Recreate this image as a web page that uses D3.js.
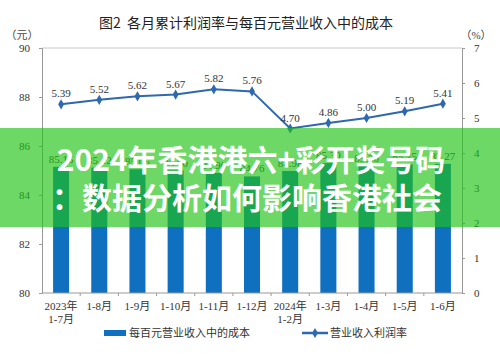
<!DOCTYPE html>
<html>
<head>
<meta charset="utf-8">
<script src="https://cdn.jsdelivr.net/npm/d3@7"></script>
<style>
  body { margin: 0; background: #fff; }
  svg { display: block; }
</style>
</head>
<body>
<div id="chart"></div>
<script>
const categories = ['2023年|1-7月', '1-8月', '1-9月', '1-10月', '1-11月', '1-12月',
    '2024年|1-2月', '1-3月', '1-4月', '1-5月', '1-6月'];
const costValues = [85.15, 85.12, 85.05, 85.00, 84.90, 84.76, 84.98, 85.30, 85.20, 85.25, 85.27];
const profitRate = [5.39, 5.52, 5.62, 5.67, 5.82, 5.76, 4.70, 4.86, 5.00, 5.19, 5.41];
const leftTicks = [80, 82, 84, 86, 88, 90];
const rightTicks = [0, 1, 2, 3, 4, 5, 6, 7];
const overlayLines = ['2024年香港港六+彩开奖号码', '：数据分析如何影响香港社会'];

const width = 500, height = 354;
const margin = {top: 48, right: 38, bottom: 61, left: 42};
const serif = '"Liberation Serif", "Noto Sans CJK SC", serif';
const barColor = '#1070c0';
const lineColor = '#2e68af';

const svg = d3.select('#chart')
    .append('svg')
    .attr('width', width)
    .attr('height', height);

const x = d3.scaleBand()
    .domain(categories)
    .range([margin.left, width - margin.right])
    .paddingInner(0.58)
    .paddingOuter(0.29);

const yL = d3.scaleLinear().domain([80, 90]).range([height - margin.bottom, margin.top]);
const yR = d3.scaleLinear().domain([0, 7]).range([height - margin.bottom, margin.top]);

// Title
svg.append('text')
    .attr('x', 246).attr('y', 28)
    .attr('text-anchor', 'middle')
    .attr('font-family', '"Noto Sans CJK SC", sans-serif')
    .attr('font-size', '14px')
    .attr('fill', '#222')
    .text('图2\u00a0\u00a0各月累计利润率与每百元营业收入中的成本');

// Unit labels
svg.append('text')
    .attr('x', 22).attr('y', 39)
    .attr('text-anchor', 'middle')
    .attr('font-family', serif).attr('font-size', '11px').attr('fill', '#444')
    .text('（元）');
svg.append('text')
    .attr('x', 476).attr('y', 39)
    .attr('text-anchor', 'middle')
    .attr('font-family', serif).attr('font-size', '11px').attr('fill', '#444')
    .text('（%）');

// Frame top line
svg.append('line')
    .attr('x1', margin.left).attr('x2', width - margin.right)
    .attr('y1', margin.top).attr('y2', margin.top)
    .attr('stroke', '#c8c8c8');

// Bars
svg.selectAll('rect.bar')
    .data(categories)
    .enter()
    .append('rect')
    .attr('class', 'bar')
    .attr('x', d => x(d))
    .attr('y', (d, i) => yL(costValues[i]))
    .attr('width', x.bandwidth())
    .attr('height', (d, i) => yL(80) - yL(costValues[i]))
    .attr('fill', barColor);

// Bar labels (mostly hidden under the banner)
svg.selectAll('text.barlabel')
    .data(categories)
    .enter()
    .append('text')
    .attr('class', 'barlabel')
    .attr('x', d => x(d) + x.bandwidth() / 2)
    .attr('y', (d, i) => yL(costValues[i]) - 4)
    .attr('text-anchor', 'middle')
    .attr('font-family', serif).attr('font-size', '11px').attr('fill', '#333')
    .text((d, i) => costValues[i].toFixed(2));

// Left axis
svg.append('g')
    .attr('transform', `translate(${margin.left},0)`)
    .call(d3.axisLeft(yL).tickValues(leftTicks).tickSize(3).tickPadding(9).tickFormat(d3.format('d')))
    .call(g => g.select('.domain').attr('stroke', '#999'))
    .call(g => g.selectAll('.tick line').attr('stroke', '#999'))
    .call(g => g.selectAll('text').attr('font-family', serif).attr('font-size', '11px').attr('fill', '#333'));

// Right axis
svg.append('g')
    .attr('transform', `translate(${width - margin.right},0)`)
    .call(d3.axisRight(yR).tickValues(rightTicks).tickSize(3).tickPadding(9).tickFormat(d3.format('d')))
    .call(g => g.select('.domain').attr('stroke', '#999'))
    .call(g => g.selectAll('.tick line').attr('stroke', '#999'))
    .call(g => g.selectAll('text').attr('font-family', serif).attr('font-size', '11px').attr('fill', '#333'));

// Bottom axis
const xAxis = svg.append('g')
    .attr('transform', `translate(0,${height - margin.bottom})`);
xAxis.append('line')
    .attr('x1', margin.left).attr('x2', width - margin.right)
    .attr('stroke', '#999');
const step = x.step();
xAxis.selectAll('line.sep')
    .data(categories.slice(1))
    .enter()
    .append('line')
    .attr('class', 'sep')
    .attr('x1', d => x(d) - step * 0.29).attr('x2', d => x(d) - step * 0.29)
    .attr('y1', 0).attr('y2', 3)
    .attr('stroke', '#999');
xAxis.selectAll('text.xl')
    .data(categories)
    .enter()
    .append('text')
    .attr('class', 'xl')
    .attr('x', d => x(d) + x.bandwidth() / 2)
    .attr('y', 17)
    .attr('text-anchor', 'middle')
    .attr('font-family', serif).attr('font-size', '11px').attr('fill', '#333')
    .each(function(d) {
        const parts = d.split('|');
        d3.select(this).selectAll('tspan')
            .data(parts)
            .enter()
            .append('tspan')
            .attr('x', x(d) + x.bandwidth() / 2)
            .attr('dy', (p, j) => j === 0 ? 0 : 13)
            .text(p => p);
    });

// Line
const line = d3.line()
    .x((d, i) => x(categories[i]) + x.bandwidth() / 2)
    .y(d => yR(d));
svg.append('path')
    .datum(profitRate)
    .attr('d', line)
    .attr('fill', 'none')
    .attr('stroke', lineColor)
    .attr('stroke-width', 2);

const diamond = d3.symbol().type(d3.symbolDiamond).size(30);
svg.selectAll('path.pt')
    .data(profitRate)
    .enter()
    .append('path')
    .attr('class', 'pt')
    .attr('d', diamond)
    .attr('transform', (d, i) => `translate(${x(categories[i]) + x.bandwidth() / 2},${yR(d)})`)
    .attr('fill', lineColor);

svg.selectAll('text.ptlabel')
    .data(profitRate)
    .enter()
    .append('text')
    .attr('class', 'ptlabel')
    .attr('x', (d, i) => x(categories[i]) + x.bandwidth() / 2)
    .attr('y', d => yR(d) - 7)
    .attr('text-anchor', 'middle')
    .attr('font-family', serif).attr('font-size', '11px').attr('fill', '#333')
    .text(d => d.toFixed(2));

// Legend
const legend = svg.append('g');
legend.append('rect')
    .attr('x', 104).attr('y', 330).attr('width', 22).attr('height', 6)
    .attr('fill', barColor);
legend.append('text')
    .attr('x', 129).attr('y', 337)
    .attr('font-family', serif).attr('font-size', '11px').attr('fill', '#333')
    .text('每百元营业收入中的成本');
legend.append('line')
    .attr('x1', 302).attr('x2', 328).attr('y1', 333).attr('y2', 333)
    .attr('stroke', lineColor).attr('stroke-width', 2.5);
legend.append('path')
    .attr('d', diamond)
    .attr('transform', 'translate(315,333)')
    .attr('fill', lineColor);
legend.append('text')
    .attr('x', 330).attr('y', 337)
    .attr('font-family', serif).attr('font-size', '11px').attr('fill', '#333')
    .text('营业收入利润率');

// Green banner overlay
svg.append('rect')
    .attr('x', 0).attr('y', 128).attr('width', width).attr('height', 99)
    .attr('fill', 'rgb(30,195,20)').attr('fill-opacity', 0.65);
svg.selectAll('text.banner')
    .data(overlayLines)
    .enter()
    .append('text')
    .attr('class', 'banner')
    .attr('x', (d, i) => i === 0 ? 251 : 247)
    .attr('y', (d, i) => 171 + i * 38)
    .attr('text-anchor', 'middle')
    .attr('font-family', '"Noto Sans CJK SC", sans-serif')
    .attr('font-weight', 'bold')
    .attr('font-size', '30px')
    .attr('fill', '#fff')
    .text(d => d);
</script>
</body>
</html>
